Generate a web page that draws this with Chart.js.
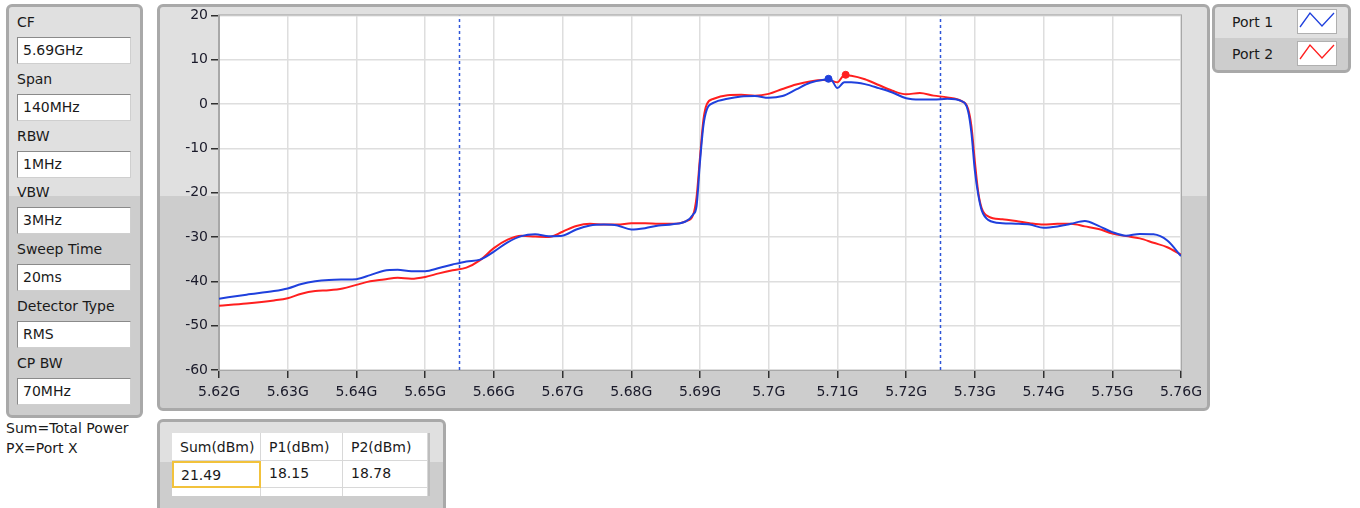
<!DOCTYPE html>
<html>
<head>
<meta charset="utf-8">
<script src="https://cdn.jsdelivr.net/npm/chart.js@4"></script>
<style>
  body { margin: 0; background: #fff; font-family: "DejaVu Sans", sans-serif; font-size: 14px; color: #1a1a1a; }
  .panel { position: absolute; box-sizing: border-box; border: 3px solid #a9a9a9; border-radius: 6px; }
  .lbl { position: absolute; left: 17px; line-height: 18px; white-space: nowrap; }
  .box { position: absolute; left: 17px; width: 114px; height: 27px; box-sizing: border-box; background: #fff;
         border: 1px solid #8a8a8a; border-right-color: #cfcfcf; border-bottom-color: #cfcfcf; padding-left: 5px; line-height: 25px; }
  .note { position: absolute; left: 6px; line-height: 18px; }
  .cell { position: absolute; box-sizing: border-box; padding-left: 8px; white-space: nowrap; }
</style>
</head>
<body>

<!-- settings panel -->
<div class="panel" style="left:6px;top:4px;width:137px;height:414px;background:linear-gradient(#e0e0e0 0,#e0e0e0 189px,#cdcdcd 189px);"></div>
<div id="settings"></div>
<div class="note" style="top:419px;">Sum=Total Power</div>
<div class="note" style="top:439px;">PX=Port X</div>

<!-- graph panel -->
<div class="panel" style="left:157px;top:4px;width:1053px;height:407px;background:linear-gradient(#e0e0e0 0,#e0e0e0 189px,#cdcdcd 189px);"></div>
<canvas id="spectrum" width="1053" height="407" style="position:absolute;left:157px;top:4px;"></canvas>

<!-- legend panel -->
<div class="panel" style="left:1212px;top:4px;width:139px;height:69px;background:linear-gradient(#e0e0e0 0,#e0e0e0 31px,#cdcdcd 31px);"></div>
<div id="legend"></div>

<!-- power table -->
<div class="panel" style="left:157px;top:419px;width:289px;height:100px;background:linear-gradient(#e0e0e0 0,#e0e0e0 40px,#cdcdcd 40px);"></div>
<div style="position:absolute;left:172px;top:433px;width:258px;height:63px;background:#fff;border-right:2px solid #bdbdbd;box-sizing:border-box;"></div>
<div id="table"></div>

<script>
// settings shown on the left
const settingNames = ['CF', 'Span', 'RBW', 'VBW', 'Sweep Time', 'Detector Type', 'CP BW'];
const settingValues = ['5.69GHz', '140MHz', '1MHz', '3MHz', '20ms', 'RMS', '70MHz'];

// spectrum data (GHz, dBm)
const freqGHz = [5.620, 5.624, 5.628,
  5.630, 5.632, 5.634, 5.636, 5.638, 5.640, 5.642, 5.644, 5.646, 5.648,
  5.650, 5.652, 5.654, 5.656, 5.658, 5.660, 5.662, 5.664, 5.666, 5.668,
  5.670, 5.672, 5.674, 5.676, 5.678, 5.680, 5.682, 5.684, 5.686, 5.688,
  5.689, 5.6895, 5.690, 5.6905, 5.691,
  5.692, 5.694, 5.696, 5.698, 5.700, 5.702, 5.704, 5.706, 5.708,
  5.709, 5.710, 5.711,
  5.712, 5.714, 5.716, 5.718, 5.720, 5.722, 5.724, 5.726, 5.728,
  5.729, 5.7295, 5.730, 5.7305, 5.731,
  5.732, 5.734, 5.736, 5.738, 5.740, 5.742, 5.744, 5.746, 5.748,
  5.750, 5.752, 5.754, 5.756, 5.758, 5.760];
const port1 = [-43.9, -43.0, -42.2,
  -41.6, -40.6, -40.0, -39.7, -39.6, -39.5, -38.6, -37.6, -37.4, -37.7,
  -37.7, -37.0, -36.2, -35.5, -35.1, -33.3, -31.2, -29.8, -29.4, -29.8,
  -29.7, -28.3, -27.4, -27.2, -27.4, -28.3, -28.0, -27.4, -27.1, -26.4,
  -24.9, -23.0, -13.0, -4.8, -1.2,
  0.3, 1.2, 1.7, 1.8, 1.4, 1.8, 3.3, 4.8, 5.5,
  5.6, 3.6, 4.9,
  4.9, 4.5, 3.6, 2.6, 1.3, 1.0, 1.0, 1.2, 0.7,
  -1.5, -6.5, -15.0, -20.5, -24.0,
  -26.2, -26.9, -27.0, -27.2, -27.9, -27.6, -27.0, -26.4, -27.5,
  -28.9, -29.7, -29.3, -29.4, -30.8, -34.3];
const port2 = [-45.5, -45.0, -44.3,
  -43.8, -42.8, -42.2, -42.0, -41.6, -40.8, -40.0, -39.6, -39.2, -39.4,
  -39.0, -38.2, -37.5, -36.9, -35.2, -32.5, -30.6, -29.7, -29.9, -30.0,
  -28.8, -27.5, -27.0, -27.2, -27.2, -26.9, -26.9, -27.0, -27.0, -26.4,
  -25.0, -21.0, -12.0, -3.5, 0.0,
  1.2, 2.0, 2.1, 1.9, 2.3, 3.4, 4.4, 5.1, 5.4,
  5.3, 4.9, 6.5,
  6.4, 5.6, 4.3, 3.0, 2.2, 2.5, 1.9, 1.5, 0.7,
  -1.0, -5.0, -13.0, -20.0, -23.5,
  -25.4, -26.0, -26.4, -26.9, -27.2, -27.0, -27.0, -27.6, -28.2,
  -29.2, -29.8, -30.3, -31.3, -32.3, -34.0];

// peak markers
const peakFreqs = [5.7087, 5.7112];
const peakLevels = [5.7, 6.6];

// channel power band edges (CF +/- CP BW / 2)
const cpEdges = [5.655, 5.725];

const xTickValues = [5.62, 5.63, 5.64, 5.65, 5.66, 5.67, 5.68, 5.69, 5.70, 5.71, 5.72, 5.73, 5.74, 5.75, 5.76];
const xTickLabels = ['5.62G', '5.63G', '5.64G', '5.65G', '5.66G', '5.67G', '5.68G', '5.69G', '5.7G', '5.71G', '5.72G', '5.73G', '5.74G', '5.75G', '5.76G'];
const yTickValues = [-60, -50, -40, -30, -20, -10, 0, 10, 20];

const seriesNames = ['Port 1', 'Port 2'];
const seriesColors = ['#1f40dd', '#ff1f1f'];

const tableHeads = ['Sum(dBm)', 'P1(dBm)', 'P2(dBm)'];
const tableValues = ['21.49', '18.15', '18.78'];

// settings column
let html = '';
settingNames.forEach((name, i) => {
  const top = 13 + i * 56.8;
  html += `<div class="lbl" style="top:${top}px">${name}</div>`;
  html += `<div class="box" style="top:${Math.round(top + 24)}px">${settingValues[i]}</div>`;
});
document.getElementById('settings').innerHTML = html;

// legend
html = '';
seriesNames.forEach((name, i) => {
  const top = 13 + i * 32;
  const pts = '3,18 13,4 25,17 37,4';
  html += `<div class="lbl" style="left:1232px;top:${top}px">${name}</div>`;
  html += `<svg style="position:absolute;left:1297px;top:${top - 4}px;" width="40" height="25">
    <rect x="0.5" y="0.5" width="39" height="24" fill="#fff" stroke="#b0b0b0"/>
    <polyline points="${pts}" fill="none" stroke="${seriesColors[i]}" stroke-width="1.3"/></svg>`;
});
document.getElementById('legend').innerHTML = html;

// table
html = '';
const colLeft = [172, 261, 343];
const colWidth = [89, 82, 85];
tableHeads.forEach((h, i) => {
  html += `<div class="cell" style="left:${colLeft[i]}px;top:433px;width:${colWidth[i]}px;height:28px;line-height:28px;border-right:1px solid #d8d8d8;border-bottom:1px solid #d8d8d8;">${h}</div>`;
  const sel = i === 0 ? 'border:2px solid #f2c23c;padding-left:7px;' : 'border-right:1px solid #d8d8d8;border-bottom:1px solid #d8d8d8;';
  html += `<div class="cell" style="left:${colLeft[i]}px;top:461px;width:${colWidth[i]}px;height:27px;line-height:25px;${sel}">${tableValues[i]}</div>`;
  html += `<div class="cell" style="left:${colLeft[i]}px;top:488px;width:${colWidth[i]}px;height:8px;border-right:1px solid #d8d8d8;"></div>`;
});
document.getElementById('table').innerHTML = html;

// white plot area with a thin frame
const plotBackground = {
  id: 'plotBackground',
  beforeDraw(chart) {
    const { ctx, chartArea: a } = chart;
    ctx.save();
    ctx.fillStyle = '#fff';
    ctx.fillRect(a.left, a.top, a.right - a.left, a.bottom - a.top);
    ctx.restore();
  },
  afterDraw(chart) {
    const { ctx, chartArea: a } = chart;
    ctx.save();
    ctx.strokeStyle = '#a8a8a8';
    ctx.lineWidth = 1;
    ctx.strokeRect(a.left - 0.5, a.top - 0.5, a.right - a.left + 1, a.bottom - a.top + 1);
    ctx.restore();
  }
};

const datasets = [];
// port traces (first dataset is drawn on top)
[port1, port2].forEach((vals, i) => {
  datasets.push({
    label: seriesNames[i],
    data: freqGHz.map((f, k) => ({ x: f, y: vals[k] })),
    borderColor: seriesColors[i],
    borderWidth: 2,
    pointRadius: 0,
    cubicInterpolationMode: 'monotone'
  });
});
peakFreqs.forEach((f, i) => {
  datasets.unshift({
    data: [{ x: f, y: peakLevels[i] }],
    showLine: false,
    pointRadius: 3.5,
    pointBackgroundColor: seriesColors[i],
    pointBorderColor: seriesColors[i]
  });
});
cpEdges.forEach(f => {
  datasets.push({
    data: [{ x: f, y: -60 }, { x: f, y: 20 }],
    borderColor: '#2d55d8',
    borderWidth: 1.5,
    borderDash: [3, 3],
    pointRadius: 0
  });
});

const tickFont = { family: 'DejaVu Sans', size: 14 };

new Chart(document.getElementById('spectrum').getContext('2d'), {
  type: 'line',
  data: { datasets },
  plugins: [plotBackground],
  options: {
    responsive: false,
    animation: false,
    devicePixelRatio: 1,
    layout: { padding: { left: 0, top: 11, right: 29, bottom: 0 } },
    plugins: { legend: { display: false }, tooltip: { enabled: false } },
    scales: {
      x: {
        type: 'linear',
        min: 5.62,
        max: 5.76,
        afterBuildTicks: scale => { scale.ticks = xTickValues.map(v => ({ value: v })); },
        afterFit: scale => { scale.height = 41; },
        ticks: {
          font: tickFont,
          color: '#1a1a2a',
          padding: 6,
          maxRotation: 0,
          autoSkip: false,
          callback: (v, idx) => xTickLabels[idx]
        },
        grid: { color: '#dedede', lineWidth: 1.5, tickColor: '#303030', tickLength: 8, tickWidth: 1.5 },
        border: { color: '#a8a8a8' }
      },
      y: {
        min: -60,
        max: 20,
        afterBuildTicks: scale => { scale.ticks = yTickValues.map(v => ({ value: v })); },
        afterFit: scale => { scale.width = 62; },
        ticks: { font: tickFont, color: '#1a1a2a', padding: 3 },
        grid: { color: '#dedede', lineWidth: 1.5, tickColor: '#303030', tickLength: 8, tickWidth: 1.5 },
        border: { color: '#a8a8a8' }
      }
    }
  }
});
</script>
</body>
</html>
